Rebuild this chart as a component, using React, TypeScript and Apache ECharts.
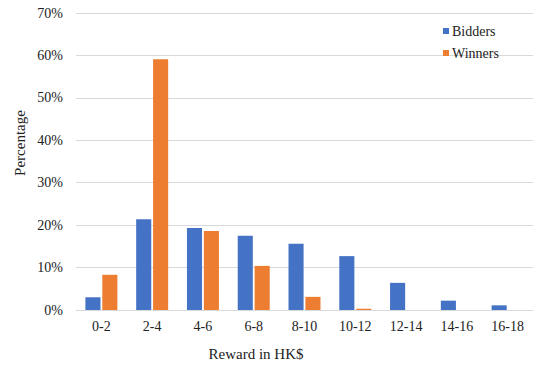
import React, { useEffect, useRef } from "react";
import * as echarts from "echarts";

const categories = ["0-2", "2-4", "4-6", "6-8", "8-10", "10-12", "12-14", "14-16", "16-18"];
const bidders = [3.0, 21.4, 19.3, 17.5, 15.6, 12.7, 6.4, 2.2, 1.1];
const winners = [8.3, 59.1, 18.6, 10.4, 3.1, 0.3, 0, 0, 0];

const FONT = "Times New Roman, Liberation Serif, serif";

export default function App() {
  const ref = useRef<HTMLDivElement>(null);
  useEffect(() => {
    if (!ref.current) return;
    const chart = echarts.init(ref.current, undefined, { renderer: "svg" });
    chart.setOption({
      animation: false,
      backgroundColor: "#ffffff",
      textStyle: { fontFamily: FONT, color: "#222" },
      grid: { left: 76, right: 3, top: 13, bottom: 57 },
      legend: {
        orient: "vertical",
        left: 443,
        top: 24,
        padding: 0,
        icon: "rect",
        itemWidth: 6,
        itemHeight: 6,
        itemGap: 8,
        textStyle: { fontFamily: FONT, fontSize: 14, color: "#222", padding: [0, 0, 0, -2] },
        data: ["Bidders", "Winners"],
      },
      xAxis: {
        type: "category",
        data: categories,
        axisLine: { show: true, lineStyle: { color: "#d9d9d9", width: 1 } },
        axisTick: { show: false },
        axisLabel: { fontFamily: FONT, fontSize: 14, color: "#222", margin: 9 },
      },
      yAxis: {
        type: "value",
        min: 0,
        max: 70,
        interval: 10,
        axisLine: { show: false },
        axisTick: { show: false },
        splitLine: { lineStyle: { color: "#d9d9d9", width: 1 } },
        axisLabel: { fontFamily: FONT, fontSize: 14, color: "#222", margin: 13, formatter: "{value}%" },
      },
      series: [
        {
          name: "Bidders",
          type: "bar",
          data: bidders,
          barGap: "12%",
          barCategoryGap: "37%",
          itemStyle: { color: "#4472C4" },
        },
        {
          name: "Winners",
          type: "bar",
          data: winners,
          itemStyle: { color: "#ED7D31" },
        },
      ],
      graphic: [
        {
          type: "text",
          x: 256,
          y: 354,
          style: {
            text: "Reward in HK$",
            fontFamily: FONT,
            fontSize: 15,
            fill: "#222",
            align: "center",
            verticalAlign: "middle",
          },
        },
        {
          type: "text",
          x: 20,
          y: 143,
          rotation: Math.PI / 2,
          style: {
            text: "Percentage",
            fontFamily: FONT,
            fontSize: 15,
            fill: "#222",
            align: "center",
            verticalAlign: "middle",
          },
        },
      ],
    });
    return () => chart.dispose();
  }, []);
  return (
    <div
      ref={ref}
      style={{ position: "fixed", left: 0, top: 0, width: 536, height: 367 }}
    />
  );
}
